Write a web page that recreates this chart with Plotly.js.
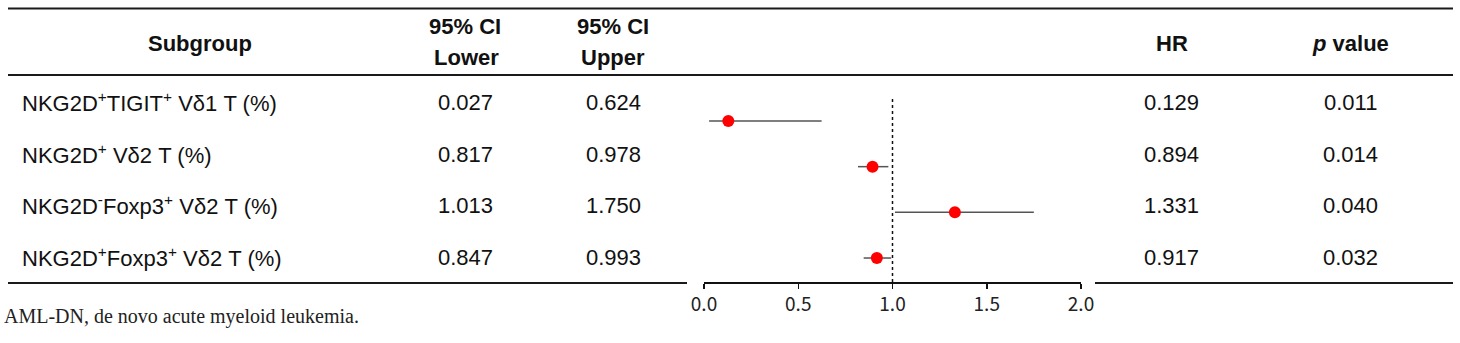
<!DOCTYPE html>
<html>
<head>
<meta charset="utf-8">
<script src="https://cdn.plot.ly/plotly-3.0.1.min.js"></script>
<style>html,body{margin:0;padding:0;background:#fff;}#chart{width:1460px;height:343px;}</style>
</head>
<body>
<div id="chart"></div>
<script>
// ---- data ----
var subgroups = [
  "NKG2D<sup>+</sup>TIGIT<sup>+</sup> Vδ1 T (%)",
  "NKG2D<sup>+</sup> Vδ2 T (%)",
  "NKG2D<sup>-</sup>Foxp3<sup>+</sup> Vδ2 T (%)",
  "NKG2D<sup>+</sup>Foxp3<sup>+</sup> Vδ2 T (%)"
];
var ciLower = [0.027, 0.817, 1.013, 0.847];
var ciUpper = [0.624, 0.978, 1.750, 0.993];
var hr      = [0.129, 0.894, 1.331, 0.917];
var pValues = ["0.011", "0.014", "0.040", "0.032"];
var xTicks  = [0, 0.5, 1.0, 1.5, 2.0];
var xTickLabels = ["0.0", "0.5", "1.0", "1.5", "2.0"];
var headers = {subgroup: "Subgroup", ci: "95% CI", lower: "Lower", upper: "Upper", hr: "HR", p: "<i>p</i> value"};
var footnote = "AML-DN, de novo acute myeloid leukemia.";

// ---- layout helpers ----
var W = 1460, H = 343;
function px(x) { return x / W; }
function py(y) { return 1 - y / H; }
function fmt(v) { return v.toFixed(3); }

var rowIdx = subgroups.map(function (_, i) { return i + 1; });
var textRowY = [102, 154, 205, 257];

var trace = {
  type: "scatter",
  mode: "markers",
  x: hr,
  y: rowIdx,
  marker: { color: "#ff0000", size: 12, line: { width: 0 } },
  error_x: {
    type: "data",
    symmetric: false,
    array: hr.map(function (v, i) { return ciUpper[i] - v; }),
    arrayminus: hr.map(function (v, i) { return v - ciLower[i]; }),
    color: "#555555",
    thickness: 1.5,
    width: 0
  },
  hoverinfo: "skip",
  showlegend: false
};

var font = "Liberation Sans, Arial, sans-serif";
var ann = [];
function addText(text, x, y, opts) {
  opts = opts || {};
  ann.push({
    text: text, xref: "paper", yref: "paper", x: px(x), y: py(y),
    xanchor: opts.xanchor || "center", yanchor: "middle", showarrow: false,
    font: { family: opts.family || font, size: opts.size || 22, color: opts.color || "#111111" }
  });
}
// headers
addText("<b>" + headers.subgroup + "</b>", 200, 43);
addText("<b>" + headers.ci + "</b>", 465, 27);
addText("<b>" + headers.lower + "</b>", 466, 58);
addText("<b>" + headers.ci + "</b>", 613, 27);
addText("<b>" + headers.upper + "</b>", 613, 58);
addText("<b>" + headers.hr + "</b>", 1172, 43);
addText("<b>" + headers.p + "</b>", 1350, 43);
// rows
subgroups.forEach(function (s, i) {
  var y = textRowY[i];
  addText(s, 20, y, { xanchor: "left" });
  addText(fmt(ciLower[i]), 465, y);
  addText(fmt(ciUpper[i]), 613, y);
  addText(fmt(hr[i]), 1171, y);
  addText(pValues[i], 1350, y);
});
// footnote
addText(footnote, 2, 316, { xanchor: "left", family: "Liberation Serif, Times New Roman, serif", size: 20, color: "#222222" });

function hline(x0, x1, y, w) {
  return { type: "line", xref: "paper", yref: "paper", x0: px(x0), x1: px(x1), y0: py(y), y1: py(y),
           line: { color: "#1a1a1a", width: w } };
}
var shapes = [
  hline(8, 1453, 8.5, 2),
  hline(8, 1453, 75, 2),
  hline(8, 687, 283, 2),
  hline(1095, 1453, 283, 2),
  { type: "line", xref: "x", yref: "y domain", x0: 1, x1: 1, y0: 0, y1: 1,
    line: { color: "#111111", width: 1.5, dash: "dot" } }
];

var layout = {
  width: W, height: H,
  margin: { l: 0, r: 0, t: 0, b: 0 },
  paper_bgcolor: "#ffffff", plot_bgcolor: "rgba(0,0,0,0)",
  showlegend: false,
  xaxis: {
    domain: [px(704), px(1081)],
    range: [0, 2],
    tickvals: xTicks, ticktext: xTickLabels,
    showgrid: false, zeroline: false,
    showline: true, linecolor: "#111111", linewidth: 1.5,
    ticks: "outside", ticklen: 5, tickwidth: 1.5, tickcolor: "#111111",
    tickfont: { family: "Noto Sans CJK SC, sans-serif", size: 19, color: "#222222" },
    fixedrange: true
  },
  yaxis: {
    domain: [py(282), py(97)],
    range: [4.525, 0.475],
    showgrid: false, zeroline: false, showline: false,
    showticklabels: false, ticks: "",
    fixedrange: true
  },
  shapes: shapes,
  annotations: ann
};

Plotly.newPlot("chart", [trace], layout, { displayModeBar: false, staticPlot: true });
</script>
</body>
</html>
